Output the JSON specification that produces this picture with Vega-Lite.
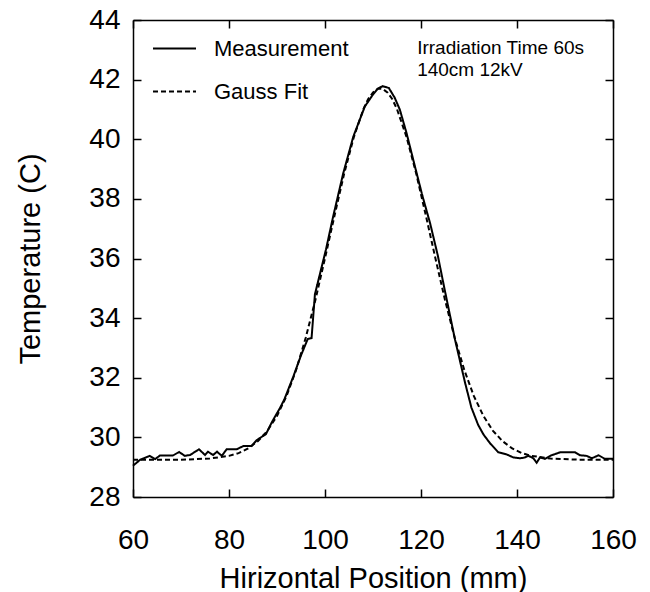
{
  "$schema": "https://vega.github.io/schema/vega-lite/v6.json",
  "width": 480,
  "height": 477,
  "autosize": {"type": "none"},
  "padding": {"left": 133, "top": 20, "right": 37, "bottom": 95},
  "background": "white",
  "config": {
    "view": {"stroke": null},
    "font": "Liberation Sans",
    "axis": {
      "grid": false,
      "domainColor": "black",
      "domainWidth": 1.5,
      "tickColor": "black",
      "tickWidth": 1.5,
      "labelColor": "black",
      "titleColor": "black",
      "labelFont": "Liberation Sans",
      "titleFont": "Liberation Sans",
      "titleFontWeight": "normal",
      "labelFlush": false
    }
  },
  "datasets": {
    "curves": [
      {"s": "Measurement", "x": 60, "y": 29.05},
      {"s": "Measurement", "x": 61.5, "y": 29.25},
      {"s": "Measurement", "x": 63.5, "y": 29.38},
      {"s": "Measurement", "x": 64.6, "y": 29.27},
      {"s": "Measurement", "x": 65.6, "y": 29.39},
      {"s": "Measurement", "x": 68.3, "y": 29.39},
      {"s": "Measurement", "x": 69.6, "y": 29.51},
      {"s": "Measurement", "x": 70.8, "y": 29.38},
      {"s": "Measurement", "x": 71.9, "y": 29.41},
      {"s": "Measurement", "x": 73.75, "y": 29.6},
      {"s": "Measurement", "x": 75, "y": 29.41},
      {"s": "Measurement", "x": 75.6, "y": 29.52},
      {"s": "Measurement", "x": 76.7, "y": 29.41},
      {"s": "Measurement", "x": 77.5, "y": 29.52},
      {"s": "Measurement", "x": 78.5, "y": 29.38},
      {"s": "Measurement", "x": 79.5, "y": 29.6},
      {"s": "Measurement", "x": 81.6, "y": 29.6},
      {"s": "Measurement", "x": 83, "y": 29.71},
      {"s": "Measurement", "x": 84.7, "y": 29.71},
      {"s": "Measurement", "x": 85.8, "y": 29.91},
      {"s": "Measurement", "x": 87.7, "y": 30.11},
      {"s": "Measurement", "x": 88.9, "y": 30.5},
      {"s": "Measurement", "x": 90.6, "y": 30.98},
      {"s": "Measurement", "x": 91.5, "y": 31.26},
      {"s": "Measurement", "x": 93.4, "y": 32.04},
      {"s": "Measurement", "x": 95, "y": 32.75},
      {"s": "Measurement", "x": 96.4, "y": 33.3},
      {"s": "Measurement", "x": 97.2, "y": 33.33},
      {"s": "Measurement", "x": 97.9, "y": 34.8},
      {"s": "Measurement", "x": 100.2, "y": 36.3},
      {"s": "Measurement", "x": 101.7, "y": 37.41},
      {"s": "Measurement", "x": 103.8, "y": 38.86},
      {"s": "Measurement", "x": 105.9, "y": 40.09},
      {"s": "Measurement", "x": 108.3, "y": 41.1},
      {"s": "Measurement", "x": 110, "y": 41.5},
      {"s": "Measurement", "x": 111, "y": 41.7},
      {"s": "Measurement", "x": 112, "y": 41.78},
      {"s": "Measurement", "x": 113.3, "y": 41.72},
      {"s": "Measurement", "x": 114.5, "y": 41.4},
      {"s": "Measurement", "x": 115.6, "y": 40.99},
      {"s": "Measurement", "x": 117, "y": 40.2},
      {"s": "Measurement", "x": 118.75, "y": 39.08},
      {"s": "Measurement", "x": 120.3, "y": 38.1},
      {"s": "Measurement", "x": 121.9, "y": 37.18},
      {"s": "Measurement", "x": 123.5, "y": 36.1},
      {"s": "Measurement", "x": 125, "y": 34.9},
      {"s": "Measurement", "x": 127.1, "y": 33.27},
      {"s": "Measurement", "x": 129.2, "y": 31.82},
      {"s": "Measurement", "x": 130.5, "y": 31.0},
      {"s": "Measurement", "x": 131.9, "y": 30.42},
      {"s": "Measurement", "x": 133, "y": 30.1},
      {"s": "Measurement", "x": 134.4, "y": 29.8},
      {"s": "Measurement", "x": 136.1, "y": 29.5},
      {"s": "Measurement", "x": 137.8, "y": 29.43},
      {"s": "Measurement", "x": 139.2, "y": 29.33},
      {"s": "Measurement", "x": 140.6, "y": 29.3},
      {"s": "Measurement", "x": 141.5, "y": 29.32},
      {"s": "Measurement", "x": 142.4, "y": 29.38},
      {"s": "Measurement", "x": 143.4, "y": 29.3},
      {"s": "Measurement", "x": 144.1, "y": 29.15},
      {"s": "Measurement", "x": 144.8, "y": 29.33},
      {"s": "Measurement", "x": 145.8, "y": 29.28},
      {"s": "Measurement", "x": 147.2, "y": 29.4},
      {"s": "Measurement", "x": 149, "y": 29.5},
      {"s": "Measurement", "x": 152.1, "y": 29.5},
      {"s": "Measurement", "x": 153.1, "y": 29.4},
      {"s": "Measurement", "x": 154.5, "y": 29.38},
      {"s": "Measurement", "x": 155.6, "y": 29.3},
      {"s": "Measurement", "x": 157, "y": 29.4},
      {"s": "Measurement", "x": 158.3, "y": 29.28},
      {"s": "Measurement", "x": 160, "y": 29.28},
      {"s": "Gauss Fit", "x": 60, "y": 29.25},
      {"s": "Gauss Fit", "x": 70, "y": 29.25},
      {"s": "Gauss Fit", "x": 76, "y": 29.29},
      {"s": "Gauss Fit", "x": 80, "y": 29.38},
      {"s": "Gauss Fit", "x": 82, "y": 29.47},
      {"s": "Gauss Fit", "x": 84, "y": 29.63},
      {"s": "Gauss Fit", "x": 86, "y": 29.87},
      {"s": "Gauss Fit", "x": 88, "y": 30.22},
      {"s": "Gauss Fit", "x": 90, "y": 30.72},
      {"s": "Gauss Fit", "x": 92, "y": 31.39},
      {"s": "Gauss Fit", "x": 94, "y": 32.27},
      {"s": "Gauss Fit", "x": 96, "y": 33.35},
      {"s": "Gauss Fit", "x": 98, "y": 34.61},
      {"s": "Gauss Fit", "x": 100, "y": 36.01},
      {"s": "Gauss Fit", "x": 102, "y": 37.45},
      {"s": "Gauss Fit", "x": 104, "y": 38.85},
      {"s": "Gauss Fit", "x": 106, "y": 40.07},
      {"s": "Gauss Fit", "x": 108, "y": 41.01},
      {"s": "Gauss Fit", "x": 109, "y": 41.35},
      {"s": "Gauss Fit", "x": 110, "y": 41.57},
      {"s": "Gauss Fit", "x": 111, "y": 41.69},
      {"s": "Gauss Fit", "x": 111.5, "y": 41.7},
      {"s": "Gauss Fit", "x": 112, "y": 41.69},
      {"s": "Gauss Fit", "x": 113, "y": 41.57},
      {"s": "Gauss Fit", "x": 114, "y": 41.35},
      {"s": "Gauss Fit", "x": 115, "y": 41.01},
      {"s": "Gauss Fit", "x": 117, "y": 40.07},
      {"s": "Gauss Fit", "x": 119, "y": 38.85},
      {"s": "Gauss Fit", "x": 121, "y": 37.45},
      {"s": "Gauss Fit", "x": 123, "y": 36.01},
      {"s": "Gauss Fit", "x": 125, "y": 34.61},
      {"s": "Gauss Fit", "x": 127, "y": 33.35},
      {"s": "Gauss Fit", "x": 129, "y": 32.27},
      {"s": "Gauss Fit", "x": 131, "y": 31.39},
      {"s": "Gauss Fit", "x": 133, "y": 30.72},
      {"s": "Gauss Fit", "x": 135, "y": 30.22},
      {"s": "Gauss Fit", "x": 137, "y": 29.87},
      {"s": "Gauss Fit", "x": 139, "y": 29.63},
      {"s": "Gauss Fit", "x": 141, "y": 29.47},
      {"s": "Gauss Fit", "x": 143, "y": 29.38},
      {"s": "Gauss Fit", "x": 147, "y": 29.29},
      {"s": "Gauss Fit", "x": 153, "y": 29.25},
      {"s": "Gauss Fit", "x": 160, "y": 29.25}
    ],
    "note": [
      {"label": "Irradiation Time 60s"}
    ]
  },
  "layer": [
    {
      "data": {"name": "curves"},
      "mark": {"type": "line", "color": "black", "strokeWidth": 2},
      "encoding": {
        "x": {
          "field": "x",
          "type": "quantitative",
          "scale": {"domain": [60, 160], "nice": false, "zero": false},
          "axis": {
            "orient": "bottom",
            "values": [60, 80, 100, 120, 140, 160],
            "tickSize": -8,
            "labelPadding": 37,
            "labelFontSize": 28,
            "labelFlush": false,
            "title": "Hirizontal Position (mm)",
            "titleFontSize": 29,
            "titleY": 81,
            "titleBaseline": "middle"
          }
        },
        "y": {
          "field": "y",
          "type": "quantitative",
          "scale": {"domain": [28, 44], "nice": false, "zero": false},
          "axis": {
            "orient": "left",
            "values": [28, 30, 32, 34, 36, 38, 40, 42, 44],
            "tickSize": -8,
            "labelPadding": 21,
            "labelFontSize": 28,
            "title": "Temperature (C)",
            "titleFontSize": 29,
            "titleX": -103,
            "titleBaseline": "middle"
          }
        },
        "strokeDash": {
          "field": "s",
          "type": "nominal",
          "scale": {"domain": ["Measurement", "Gauss Fit"], "range": [[1, 0], [5, 3]]},
          "legend": {
            "orient": "none",
            "legendX": 19,
            "legendY": 6,
            "title": null,
            "symbolType": "stroke",
            "symbolSize": 1849,
            "symbolStrokeWidth": 2,
            "symbolStrokeColor": "black",
            "labelFontSize": 22,
            "labelFont": "Liberation Sans",
            "labelColor": "black",
            "labelOffset": 17,
            "rowPadding": 9,
            "padding": 0
          }
        }
      }
    },
    {
      "data": {"name": "note"},
      "mark": {"type": "text", "align": "left", "baseline": "top", "fontSize": 19, "fontWeight": "normal", "lineHeight": 22, "font": "Liberation Sans", "fill": "black"},
      "encoding": {
        "x": {
          "datum": 119.2,
          "type": "quantitative",
          "scale": {"domain": [60, 160], "nice": false, "zero": false},
          "axis": {"orient": "top", "values": [60, 80, 100, 120, 140, 160], "tickSize": -8, "labels": false, "title": null}
        },
        "y": {
          "datum": 43.36,
          "type": "quantitative",
          "scale": {"domain": [28, 44], "nice": false, "zero": false},
          "axis": {"orient": "right", "values": [28, 30, 32, 34, 36, 38, 40, 42, 44], "tickSize": -8, "labels": false, "title": null}
        },
        "text": {"value": ["Irradiation Time 60s", "140cm 12kV"]}
      }
    }
  ],
  "resolve": {"axis": {"x": "independent", "y": "independent"}}
}
